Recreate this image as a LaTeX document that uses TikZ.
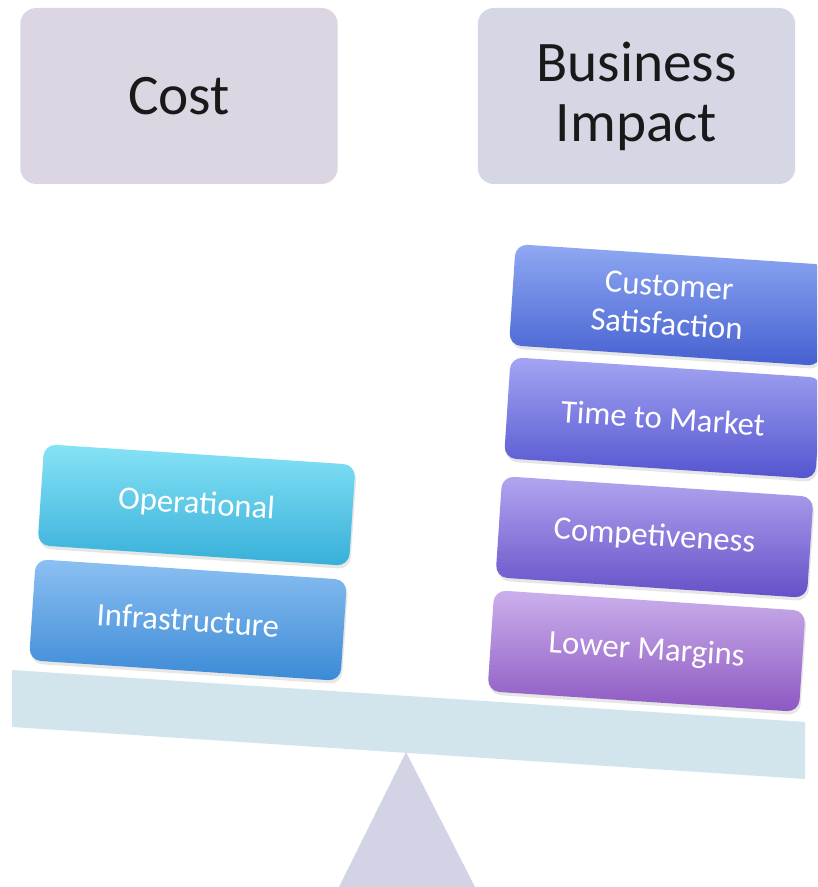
\documentclass[tikz,border=0pt]{standalone}
\usepackage{fontspec}
\setmainfont{Carlito}
\usetikzlibrary{shadows}

\definecolor{costfill}{HTML}{DCD6E2}
\definecolor{impactfill}{HTML}{D6D7E5}
\definecolor{beamfill}{HTML}{D3E5EC}
\definecolor{pivotfill}{HTML}{D3D3E6}
\definecolor{opTop}{HTML}{86E3F6}
\definecolor{opBot}{HTML}{37AFD9}
\definecolor{infTop}{HTML}{8CC0F2}
\definecolor{infBot}{HTML}{3B8AD6}
\definecolor{custTop}{HTML}{8FA9F3}
\definecolor{custBot}{HTML}{4560D0}
\definecolor{timeTop}{HTML}{A3A5F3}
\definecolor{timeBot}{HTML}{5454CF}
\definecolor{compTop}{HTML}{B2A5EF}
\definecolor{compBot}{HTML}{6650C8}
\definecolor{lowTop}{HTML}{CBB0EC}
\definecolor{lowBot}{HTML}{8D58C2}

\tikzset{
  header/.style={rounded corners=12pt, minimum width=238pt, minimum height=132pt,
    inner sep=0pt, align=center, text=black!90, font=\fontsize{43}{45}\selectfont},
  weight/.style={rounded corners=9pt, minimum width=234pt, minimum height=76pt,
    inner sep=0pt, align=center, rotate=-3.8, text=white,
    font=\fontsize{24.5}{29}\selectfont,
    drop shadow={opacity=0.2, shadow xshift=1pt, shadow yshift=-2.5pt}},
}

\begin{document}
\begin{tikzpicture}[x=0.75pt,y=0.75pt,yscale=-1,xscale=1]
\useasboundingbox (0,0) rectangle (817,887);
\clip (0,0) rectangle (817,887);

% Header Nodes
\node [header, fill=costfill] (cost) at (179,96) {Cost};
\node [header, fill=impactfill] (impact) at (636.5,96) {Business\\Impact};

% Fulcrum
\fill [pivotfill] (406,752) -- (475,887) -- (339,887) -- cycle;
% Beam
\fill [beamfill] (12,670) -- (805,722) -- (805,779) -- (12,727) -- cycle;

% Cost weights
\node [weight, top color=infTop, bottom color=infBot] (infra) at (188,620) {Infrastructure};
\node [weight, top color=opTop, bottom color=opBot] (oper) at (196.5,505) {Operational};

% Business impact weights
\node [weight, top color=lowTop, bottom color=lowBot] (margins) at (646.5,651) {Lower Margins};
\node [weight, top color=compTop, bottom color=compBot] (compet) at (654.5,537) {Competiveness};
\node [weight, top color=timeTop, bottom color=timeBot] (market) at (663,418) {Time to Market};
\node [weight, top color=custTop, bottom color=custBot] (custsat) at (668,305) {Customer\\Satisfaction};

\end{tikzpicture}
\end{document}
